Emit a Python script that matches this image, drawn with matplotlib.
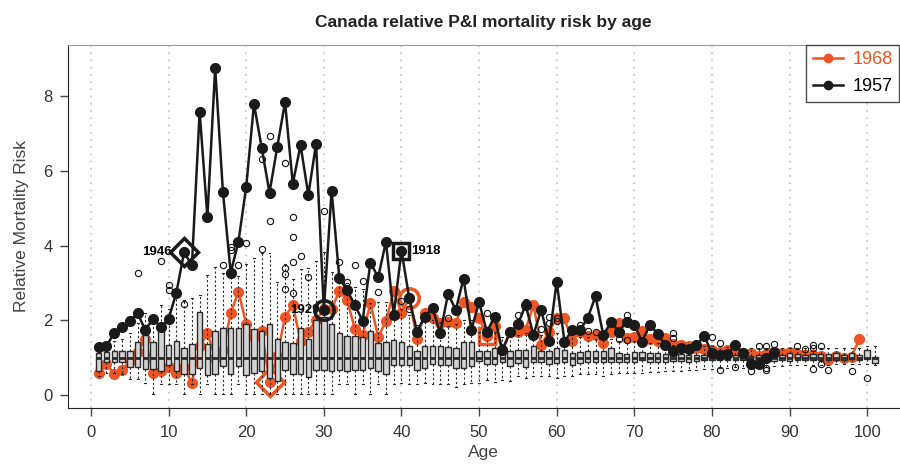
import matplotlib
matplotlib.use("Agg")
import matplotlib.pyplot as plt

plt.rcParams["font.family"] = ["Liberation Sans", "DejaVu Sans"]

ORANGE = "#EE5522"

# ages covered by the boxplots (1..101)
ages = list(range(1, 102))

# box statistics
q3 = [1.13, 1.16, 1.18, 1.18, 1.18, 1.41, 1.61, 1.43, 1.74, 1.34,
      1.45, 1.27, 1.37, 2.22, 1.37, 1.72, 1.79, 1.79, 1.79, 1.90,
      1.77, 1.72, 1.90, 1.49, 1.43, 1.40, 1.79, 1.50, 2.01, 2.10,
      1.90, 1.65, 1.58, 1.58, 1.56, 1.72, 1.40, 1.43, 1.47, 1.43,
      1.31, 1.18, 1.31, 1.31, 1.31, 1.28, 1.25, 1.41, 1.43, 1.19,
      1.19, 1.25, 1.21, 1.18, 1.21, 1.21, 1.30, 1.19, 1.19, 1.25,
      1.21, 1.12, 1.16, 1.18, 1.18, 1.18, 1.25, 1.12, 1.10, 1.16,
      1.16, 1.12, 1.12, 1.10, 1.10, 1.10, 1.07, 1.07, 1.07, 1.07,
      1.07, 1.07, 1.08, 1.07, 1.05, 1.08, 1.08, 1.10, 1.07, 1.12,
      1.10, 1.07, 1.10, 1.10, 1.10, 1.12, 1.07, 1.12, 1.07, 1.20, 1.03]
q1 = [0.64, 0.87, 0.87, 0.87, 0.76, 0.76, 0.70, 0.69, 0.65, 0.80,
      0.63, 0.55, 0.57, 0.72, 0.54, 0.56, 0.78, 0.56, 0.78, 0.54,
      0.58, 0.64, 0.45, 0.37, 0.67, 0.55, 0.57, 0.47, 0.66, 0.66,
      0.63, 0.67, 0.63, 0.66, 0.66, 0.73, 0.63, 0.55, 0.79, 0.79,
      0.79, 0.67, 0.73, 0.82, 0.80, 0.80, 0.73, 0.73, 0.78, 0.91,
      0.82, 0.82, 0.89, 0.78, 0.85, 0.76, 0.87, 0.89, 0.82, 0.85,
      0.89, 0.79, 0.85, 0.87, 0.89, 0.89, 0.89, 0.89, 0.87, 0.89,
      0.94, 0.89, 0.89, 0.89, 0.92, 0.92, 0.89, 0.92, 0.94, 0.94,
      0.95, 0.94, 0.94, 0.94, 0.93, 0.92, 0.92, 0.92, 0.93, 0.92,
      0.94, 0.94, 0.94, 0.94, 0.94, 0.94, 0.94, 0.96, 0.94, 0.96, 0.85]
median = [1.0] * len(ages)
whis_hi = [1.35, 1.40, 1.45, 1.50, 1.65, 1.92, 2.20, 2.10, 2.41, 2.30,
           2.60, 2.55, 2.60, 2.68, 3.22, 3.44, 3.27, 3.30, 3.19, 3.50,
           3.66, 3.80, 3.80, 3.04, 3.50, 3.10, 3.37, 3.40, 3.60, 3.84,
           3.30, 3.10, 3.00, 2.90, 2.85, 2.46, 2.50, 2.50, 2.40, 2.30,
           2.14, 1.88, 2.01, 2.00, 1.95, 1.85, 1.90, 2.00, 2.00, 1.70,
           1.65, 1.70, 1.56, 1.60, 1.60, 1.65, 1.70, 1.60, 1.60, 1.65,
           1.55, 1.60, 1.55, 1.55, 1.50, 1.55, 1.50, 1.45, 1.40, 1.45,
           1.45, 1.40, 1.40, 1.38, 1.35, 1.35, 1.32, 1.32, 1.30, 1.30,
           1.30, 1.28, 1.28, 1.27, 1.27, 1.25, 1.25, 1.27, 1.27, 1.25,
           1.25, 1.27, 1.25, 1.27, 1.27, 1.25, 1.25, 1.27, 1.27, 1.30, 1.30]
whis_lo = [0.50, 0.60, 0.60, 0.55, 0.42, 0.42, 0.31, 0.03, 0.30, 0.30,
           0.30, 0.03, 0.30, 0.03, 0.30, 0.03, 0.03, 0.03, 0.30, 0.03,
           0.03, 0.03, 0.03, 0.03, 0.03, 0.03, 0.03, 0.03, 0.03, 0.03,
           0.03, 0.30, 0.30, 0.03, 0.30, 0.03, 0.30, 0.03, 0.30, 0.32,
           0.30, 0.30, 0.32, 0.30, 0.30, 0.30, 0.22, 0.30, 0.32, 0.32,
           0.40, 0.35, 0.40, 0.38, 0.50, 0.45, 0.50, 0.50, 0.50, 0.45,
           0.50, 0.50, 0.55, 0.55, 0.55, 0.50, 0.55, 0.60, 0.60, 0.60,
           0.60, 0.62, 0.62, 0.65, 0.65, 0.65, 0.68, 0.68, 0.70, 0.70,
           0.72, 0.72, 0.75, 0.72, 0.75, 0.76, 0.76, 0.78, 0.78, 0.80,
           0.80, 0.80, 0.80, 0.80, 0.80, 0.82, 0.82, 0.82, 0.82, 0.82, 0.80]

# outliers: age -> values
outliers = {
    6: [3.26], 9: [3.6], 10: [2.95, 2.81], 12: [2.43],
    17: [3.48], 18: [3.97, 3.89], 19: [3.48], 20: [4.06],
    22: [6.33, 3.9], 23: [6.94, 4.65], 25: [6.22, 3.4, 3.24, 2.83],
    26: [4.77, 4.24, 3.57, 2.74], 27: [3.73], 28: [3.15], 30: [4.93],
    32: [3.57], 33: [3.04], 34: [3.47], 35: [3.06], 37: [2.77],
    40: [2.52], 41: [2.31], 46: [2.07], 51: [2.2], 55: [2.14], 56: [2.5],
    58: [1.78], 59: [2.1, 1.94], 60: [2.06, 1.97], 63: [1.88], 64: [1.72],
    65: [1.7], 68: [1.5], 69: [2.14, 1.47], 75: [1.65, 1.52], 80: [1.55],
    81: [1.39, 0.67], 83: [0.76], 85: [0.65], 86: [1.3], 87: [1.31, 0.71, 0.67],
    88: [1.37], 91: [1.3], 92: [1.22], 93: [1.34, 1.25, 0.69], 94: [1.3, 0.83],
    95: [0.67], 98: [0.64], 100: [0.45],
}

ages_1957 = list(range(1, 89))
risk_1957 = [1.28, 1.31, 1.67, 1.81, 1.98, 2.19, 1.74, 2.04, 1.81, 2.04,
             2.74, 3.83, 3.47, 7.59, 4.77, 8.77, 5.44, 3.28, 4.11, 5.58,
             7.80, 6.62, 5.42, 6.65, 7.85, 5.66, 6.70, 5.36, 6.73, 2.28,
             5.47, 3.13, 2.81, 2.40, 1.99, 3.55, 3.15, 4.11, 2.14, 3.87,
             2.60, 1.70, 2.10, 2.33, 1.65, 2.71, 2.28, 3.12, 1.74, 2.49,
             1.69, 2.10, 1.20, 1.68, 1.89, 2.41, 1.61, 2.28, 1.44, 3.04,
             1.43, 1.74, 1.74, 2.06, 2.65, 1.60, 1.95, 1.70, 1.96, 1.88,
             1.43, 1.88, 1.64, 1.34, 1.19, 1.25, 1.22, 1.34, 1.58, 1.12,
             1.07, 1.10, 1.34, 1.12, 0.83, 0.83, 1.00, 1.16]

ages_1968 = list(range(1, 100))
risk_1968 = [0.60, 0.83, 0.56, 0.67, 0.90, 1.15, 1.50, 0.58, 0.63, 0.76,
             0.60, 0.75, 0.31, 1.30, 1.65, 1.00, 1.20, 2.19, 2.77, 1.90,
             1.55, 1.72, 0.36, 1.05, 2.10, 2.41, 1.45, 1.70, 2.00, 2.30,
             2.30, 2.79, 2.55, 1.76, 1.60, 2.46, 1.56, 1.97, 2.79, 2.20,
             2.59, 1.50, 2.20, 2.05, 1.94, 1.95, 1.94, 2.48, 2.37, 2.06,
             1.58, 1.85, 1.20, 1.70, 1.70, 1.75, 2.41, 1.34, 1.70, 2.06,
             2.05, 1.45, 1.70, 1.58, 1.60, 1.40, 1.70, 1.92, 1.52, 1.55,
             1.72, 1.50, 1.45, 1.52, 1.37, 1.34, 1.30, 1.25, 1.22, 1.20,
             1.15, 1.20, 1.15, 1.12, 1.12, 1.05, 1.10, 1.15, 1.12, 1.15,
             1.10, 1.08, 1.08, 1.05, 0.94, 1.05, 1.00, 1.03, 1.50]

# highlighted pandemic cohorts: (birth year label, age, marker)
marks_1957 = [("1946", 12, "D"), ("1929", 30, "o"), ("1918", 40, "s")]
marks_1968 = [(23, "D"), (41, "o"), (51, "s")]

fig = plt.figure(figsize=(9, 4.66), dpi=100)
ax = fig.add_axes([68 / 900, 58 / 466, 831 / 900, 363 / 466])

# vertical dotted grid
for x in range(0, 101, 10):
    ax.axvline(x, color="#cccccc", lw=1.3, ls=(0, (1, 3)), zorder=0)

ax.plot(ages_1968, risk_1968, color=ORANGE, lw=1.8, marker="o", ms=7,
        zorder=2, label="1968")

stats = []
for i, a in enumerate(ages):
    stats.append(dict(med=median[i], q1=q1[i], q3=q3[i], whislo=whis_lo[i],
                      whishi=whis_hi[i], fliers=outliers.get(a, [])))
ax.bxp(stats, positions=ages, widths=0.7, patch_artist=True, manage_ticks=False,
       capwidths=0.25,
       boxprops=dict(facecolor="#d4d4d4", edgecolor="#2a2a2a", lw=1.0),
       medianprops=dict(color="#2a2a2a", lw=2.0),
       whiskerprops=dict(color="#2a2a2a", lw=0.8, ls=(0, (2, 2))),
       capprops=dict(color="#2a2a2a", lw=0.8),
       flierprops=dict(marker="o", mfc="none", mec="#111111", ms=4.5, mew=0.8),
       zorder=3)

ax.plot(ages_1957, risk_1957, color="#1a1a1a", lw=1.8, marker="o", ms=7,
        zorder=4, label="1957")

for a, m in marks_1968:
    y = risk_1968[ages_1968.index(a)]
    ax.plot(a, y, marker=m, ms=14 if m != "s" else 12, mfc="none", mec=ORANGE,
            mew=2.5, zorder=2.5)

for label, a, m in marks_1957:
    y = risk_1957[ages_1957.index(a)]
    ax.plot(a, y, marker=m, ms=14 if m != "s" else 12, mfc="none", mec="#1a1a1a",
            mew=2.5, zorder=5)
    if label == "1918":
        ax.text(a + 1.3, y, label, ha="left", va="center", fontsize=9.5,
                fontweight="bold", zorder=6)
    elif label == "1929":
        ax.text(a - 0.6, y, label, ha="right", va="center", fontsize=9.5,
                fontweight="bold", zorder=4.5)
    else:
        ax.text(a - 1.6, y, label, ha="right", va="center", fontsize=9.5,
                fontweight="bold", zorder=6)

ax.set_xlim(-2.96, 104.1)
ax.set_ylim(-0.35, 9.38)
ax.set_xticks(range(0, 101, 10))
ax.set_yticks([0, 2, 4, 6, 8])
ax.tick_params(direction="out", length=6, width=1, colors="#444444",
               labelsize=12, labelcolor="#333333")
ax.tick_params(axis="x", pad=6)
ax.tick_params(axis="y", pad=5)

ax.spines["right"].set_visible(False)
ax.spines["top"].set_color("#999999")
ax.spines["left"].set_color("#222222")
ax.spines["bottom"].set_color("#222222")

ax.set_xlabel("Age", fontsize=12.5, color="#444444", labelpad=4)
ax.set_ylabel("Relative Mortality Risk", fontsize=12.5, color="#444444",
              labelpad=10)
ax.set_title("Canada relative P&I mortality risk by age", fontsize=12.5,
             fontweight="bold", color="#222222", pad=13)

leg = ax.legend(loc="upper right", fontsize=13, frameon=True, fancybox=False,
                borderaxespad=0, handlelength=1.7, borderpad=0.35,
                labelspacing=0.55, handletextpad=0.5)
leg.get_frame().set_edgecolor("#222222")
leg.get_frame().set_linewidth(1.0)
for line in leg.get_lines():
    line.set_markersize(6)
leg.get_texts()[0].set_color(ORANGE)

fig.savefig("out.png", dpi=100)
